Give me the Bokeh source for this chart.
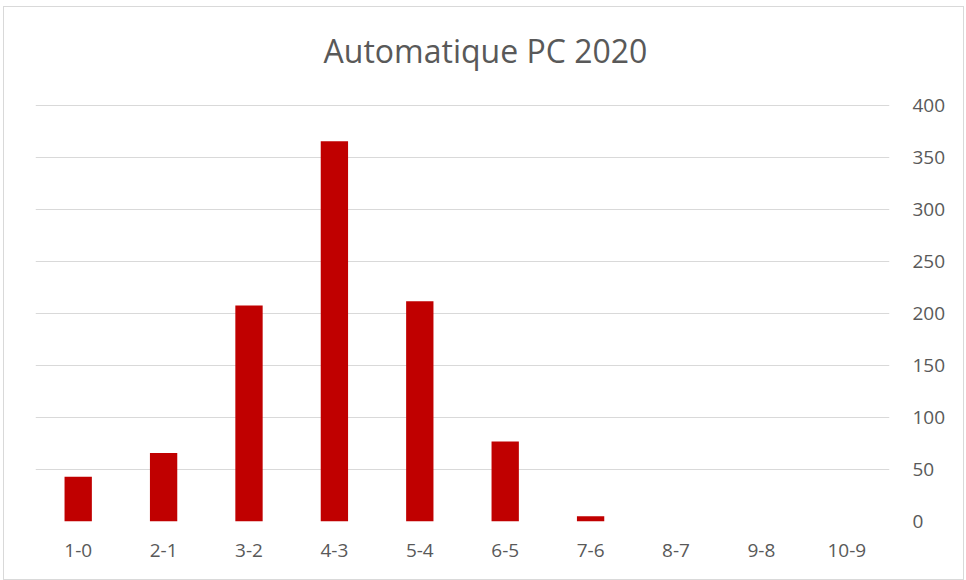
from bokeh.plotting import figure
from bokeh.models import Range1d, FixedTicker, Label
from bokeh.embed import file_html
from bokeh.resources import INLINE

categories = ["1-0", "2-1", "3-2", "4-3", "5-4", "6-5", "7-6", "8-7", "9-8", "10-9"]
values = [43, 66, 208, 366, 212, 77, 5, 0, 0, 0]
y_ticks = [0, 50, 100, 150, 200, 250, 300, 350, 400]
title_text = "Automatique PC 2020"

FONT = "Open Sans"
GREY = "#595959"

# the y range extends above 400 so the title can sit inside the plot frame;
# gridlines and tick labels stop at 400
p = figure(x_range=categories, y_range=Range1d(0, 487), width=961, height=574,
           output_backend="svg", toolbar_location=None, y_axis_location="right",
           min_border_left=31, min_border_right=76, min_border_top=8, min_border_bottom=60)

p.vbar(x=categories, top=values, width=0.32, fill_color="#C00000", line_color=None)

title = Label(x=450, y=471, x_units="screen", y_units="screen", text=title_text,
              text_align="center", text_baseline="middle", text_font=FONT,
              text_font_size="32px", text_color=GREY)
p.add_layout(title)

p.outline_line_color = None
p.styles = {"border": "1px solid #d9d9d9", "margin-left": "3px", "margin-top": "6px"}

p.xgrid.grid_line_color = None
p.ygrid.grid_line_color = "#d9d9d9"
p.ygrid.grid_line_width = 1
p.yaxis.ticker = FixedTicker(ticks=y_ticks)

for ax in (p.xaxis, p.yaxis):
    ax.axis_line_color = None
    ax.major_tick_line_color = None
    ax.minor_tick_line_color = None
    ax.major_label_text_font = FONT
    ax.major_label_text_font_size = "19px"
    ax.major_label_text_color = GREY

p.xaxis.major_label_standoff = 16
p.yaxis.major_label_standoff = 17
p.x_range.range_padding = 0.0

open("out.html", "w").write(file_html(p, INLINE))
